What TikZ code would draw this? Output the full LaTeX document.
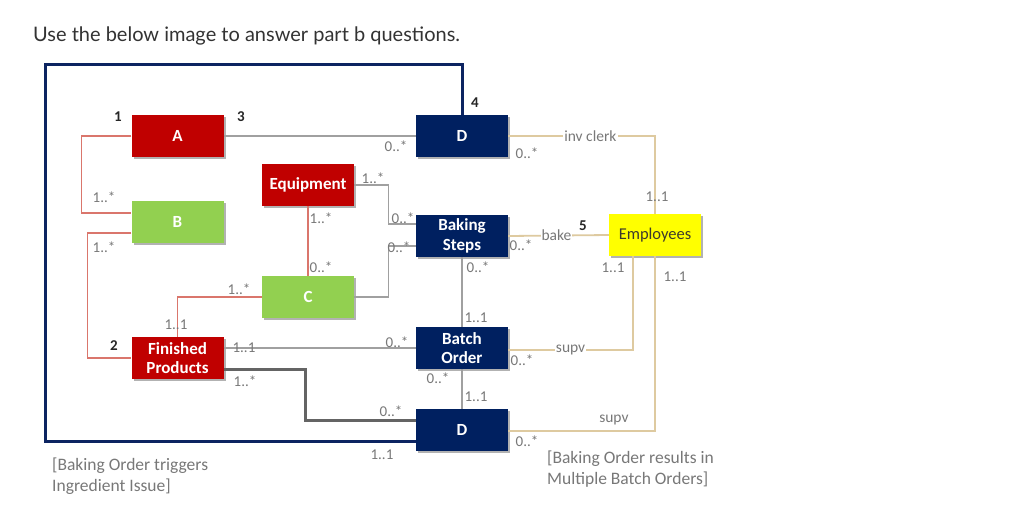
\documentclass[tikz,border=0pt]{standalone}
\usepackage{fontspec}
\setmainfont{Carlito}
\newfontfamily\titlefont{Lato}
\usetikzlibrary{shadows}

\definecolor{boxred}{RGB}{192,0,0}
\definecolor{boxnavy}{RGB}{0,32,96}
\definecolor{boxgreen}{RGB}{146,208,80}
\definecolor{boxyellow}{RGB}{255,255,0}
\definecolor{linered}{RGB}{218,118,108}
\definecolor{linegray}{RGB}{160,160,160}
\definecolor{linetan}{RGB}{222,202,160}
\definecolor{linedark}{RGB}{100,100,100}
\definecolor{framenavy}{RGB}{12,36,97}
\definecolor{multgray}{RGB}{120,120,120}

\begin{document}
\begin{tikzpicture}[x=1pt,y=-1pt,
    entity/.style={minimum width=92pt, minimum height=42pt, inner sep=0pt, align=center,
        font=\fontsize{17}{19.5}\selectfont\bfseries, text=white,
        drop shadow={shadow xshift=2pt, shadow yshift=-2pt, opacity=0.3, fill=black}},
    mult/.style={font=\fontsize{15}{15}\selectfont, text=multgray, inner sep=0pt},
    num/.style={font=\fontsize{15}{15}\selectfont\bfseries, text=black!85, inner sep=0pt},
    note/.style={font=\fontsize{17.5}{20.5}\selectfont, text=multgray, align=left, anchor=north west, inner sep=0pt},
    redline/.style={draw=linered, line width=1.5pt},
    grayline/.style={draw=linegray, line width=1.3pt},
    tanline/.style={draw=linetan, line width=1.8pt},
    thickline/.style={draw=linedark, line width=3pt},
    frameline/.style={draw=framenavy, line width=3pt},
    role/.style={fill=white, inner sep=1pt, font=\fontsize{15.5}{15.5}\selectfont, text=multgray}]
    \useasboundingbox[fill=white] (0,0) rectangle (1026,512);

    \node[anchor=west, inner sep=0pt, font=\titlefont\fontsize{20}{22}\selectfont, text=black!80] (title) at (33,36) {Use the below image to answer part b questions.};

    % entities
    \node[entity, fill=boxred] (A) at (177.5,136) {A};
    \node[entity, fill=boxnavy] (Dtop) at (462,136) {D};
    \node[entity, fill=boxred] (Equip) at (308,185) {Equipment};
    \node[entity, fill=boxgreen] (B) at (177.5,222) {B};
    \node[entity, fill=boxnavy] (Steps) at (462,236) {Baking\\Steps};
    \node[entity, fill=boxyellow, text=black!75!olive, font=\fontsize{16.5}{19}\selectfont] (Emp) at (655,235) {Employees};
    \node[entity, fill=boxgreen] (C) at (308,297) {C};
    \node[entity, fill=boxred] (FP) at (177.5,358) {Finished\\Products};
    \node[entity, fill=boxnavy] (BO) at (462,348) {Batch\\Order};
    \node[entity, fill=boxnavy] (Dbot) at (462,430) {D};
    \coordinate (frameTL) at (45,64);

    % connectors
    \path[frameline] (Dtop.north) |- (frameTL) |- ([yshift=-11pt]Dbot.west);
    \path[redline] (A.west) -- ++(-50,0) |- ([yshift=9pt]B.west);
    \path[redline] ([yshift=-11pt]B.west) -- ++(-44,0) |- (FP.west);
    \path[redline] (Equip.south) -- (C.north);
    \path[redline] (C.west) -| (FP.north);
    \path[grayline] (A.east) -- (Dtop.west);
    \path[grayline] (Equip.east) -- ++(34,0) |- ([yshift=12pt]Steps.west);
    \path[grayline] (C.east) -- ++(34,0) |- ([yshift=-10pt]Steps.west);
    \path[grayline] (Steps.south) -- (BO.north);
    \path[grayline] (BO.south) -- (Dbot.north);
    \path[grayline] ([yshift=10pt]FP.east) -- (BO.west);
    \path[thickline] ([yshift=-11pt]FP.east) -- ++(82,0) |- ([yshift=10pt]Dbot.west);
    \path[tanline] (Dtop.east) -| node[role, pos=0.28] (invclerk) {inv clerk} (Emp.north);
    \path[tanline] (Steps.east) -- node[role, pos=0.48] (bake) {bake} (Emp.west);
    \path[tanline] ([yshift=-2pt]BO.east) -| node[role, pos=0.25] (supvA) {supv} ([xshift=-22pt]Emp.south);
    \path[tanline] ([yshift=-1pt]Dbot.east) -| node[role, fill=none, pos=0.36, above=4pt] (supvB) {supv} (Emp.south);

    % numbers
    \node[num] (n1) at (118,117) {1};
    \node[num] (n2) at (114,346) {2};
    \node[num] (n3) at (241,117) {3};
    \node[num] (n4) at (475,103) {4};
    \node[num] (n5) at (583,226) {5};

    % multiplicities
    \node[mult] (mBa) at (104,197) {1..*};
    \node[mult] (mBb) at (104,247) {1..*};
    \node[mult] (mDa) at (396,146) {0..*};
    \node[mult] (mDb) at (527,153) {0..*};
    \node[mult] (mEa) at (657,197) {1..1};
    \node[mult] (mQa) at (373,178) {1..*};
    \node[mult] (mQb) at (321,218) {1..*};
    \node[mult] (mCa) at (321,267) {0..*};
    \node[mult] (mSa) at (403,218) {0..*};
    \node[mult] (mSb) at (399,247) {0..*};
    \node[mult] (mSc) at (521,245) {0..*};
    \node[mult] (mSd) at (478,267) {0..*};
    \node[mult] (mEb) at (613,268) {1..1};
    \node[mult] (mEc) at (675,277) {1..1};
    \node[mult] (mCb) at (239,289) {1..*};
    \node[mult] (mFa) at (176,325) {1..1};
    \node[mult] (mFb) at (244,348) {1..1};
    \node[mult] (mFc) at (245,381) {1..*};
    \node[mult] (mOa) at (397,342) {0..*};
    \node[mult] (mOb) at (476,318) {1..1};
    \node[mult] (mOc) at (522,360) {0..*};
    \node[mult] (mOd) at (438,378) {0..*};
    \node[mult] (mDc) at (476,397) {1..1};
    \node[mult] (mDd) at (391,411) {0..*};
    \node[mult] (mDe) at (527,441) {0..*};
    \node[mult] (mDf) at (382,455) {1..1};

    % notes
    \node[note] (noteL) at (52,458) {[Baking Order triggers\\Ingredient Issue]};
    \node[note] (noteR) at (547,451) {[Baking Order results in\\Multiple Batch Orders]};
\end{tikzpicture}
\end{document}
